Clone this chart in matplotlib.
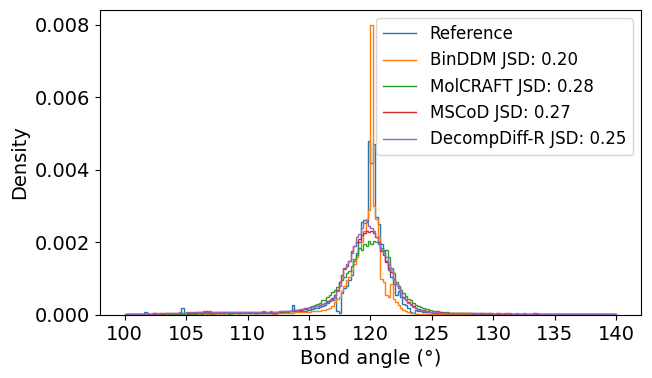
import numpy as np
import matplotlib
matplotlib.use("Agg")
import matplotlib.pyplot as plt

# Bin range of the histograms (degrees) and bin count
x_min, x_max, n_bins = 100, 140, 200
# Bin heights are listed in units of 1e-5 density
unit = 1e-5

reference = [
    1, 2, 2, 2, 2, 2, 2, 2, 7, 2,
    2, 2, 3, 3, 2, 3, 3, 3, 3, 4,
    4, 4, 4, 18, 4, 5, 5, 5, 5, 6,
    6, 6, 5, 6, 6, 5, 6, 5, 6, 6,
    5, 6, 5, 6, 5, 5, 6, 5, 6, 5,
    5, 5, 6, 5, 6, 6, 5, 6, 6, 7,
    6, 7, 7, 8, 8, 9, 10, 10, 27, 10,
    10, 11, 12, 12, 14, 15, 16, 18, 20, 22,
    24, 28, 32, 38, 42, 50, 12, 6, 60, 75,
    80, 95, 110, 150, 170, 200, 255, 262, 260, 480,
    420, 470, 270, 250, 195, 180, 150, 125, 105, 85,
    55, 65, 50, 30, 28, 20, 8, 5, 15, 12,
    10, 9, 8, 8, 7, 6, 6, 6, 5, 5,
    5, 5, 4, 5, 4, 4, 5, 4, 4, 4,
    4, 4, 3, 4, 4, 3, 4, 3, 4, 3,
    3, 4, 3, 3, 4, 3, 3, 4, 3, 3,
    3, 3, 3, 4, 3, 3, 3, 3, 3, 3,
    3, 3, 2, 3, 3, 3, 2, 3, 3, 2,
    3, 2, 3, 2, 3, 2, 2, 3, 2, 2,
    2, 2, 2, 3, 2, 2, 2, 2, 2, 2,
]

binddm = [
    2, 2, 2, 3, 2, 2, 3, 2, 2, 3,
    3, 2, 3, 3, 3, 2, 3, 3, 3, 3,
    3, 3, 4, 3, 3, 4, 4, 3, 4, 4,
    4, 4, 5, 4, 4, 5, 4, 5, 4, 5,
    4, 5, 5, 4, 5, 5, 4, 5, 5, 5,
    5, 5, 5, 4, 5, 5, 5, 6, 5, 5,
    4, 4, 5, 5, 5, 5, 6, 6, 6, 7,
    7, 7, 8, 8, 9, 9, 10, 10, 11, 12,
    13, 14, 16, 20, 25, 35, 45, 50, 65, 80,
    95, 105, 120, 140, 160, 185, 200, 230, 265, 290,
    800, 300, 265, 215, 100, 90, 55, 50, 85, 45,
    35, 28, 20, 15, 10, 8, 6, 5, 4, 4,
    4, 4, 3, 4, 3, 3, 4, 3, 3, 3,
    3, 3, 3, 2, 3, 3, 2, 3, 3, 3,
    3, 2, 3, 3, 2, 3, 3, 2, 3, 2,
    2, 3, 2, 3, 3, 2, 2, 3, 2, 3,
    2, 2, 3, 2, 2, 3, 2, 2, 3, 2,
    2, 3, 2, 2, 2, 2, 3, 2, 2, 2,
    2, 2, 2, 3, 2, 2, 2, 2, 2, 2,
    2, 2, 2, 2, 2, 2, 2, 2, 2, 2,
]

molcraft = [
    2, 3, 2, 3, 3, 2, 3, 3, 2, 3,
    3, 3, 3, 4, 3, 3, 4, 3, 3, 4,
    4, 3, 4, 4, 4, 4, 5, 4, 4, 5,
    5, 4, 5, 5, 5, 4, 5, 5, 5, 5,
    5, 5, 4, 5, 5, 5, 5, 5, 6, 5,
    5, 6, 5, 6, 6, 5, 6, 6, 6, 6,
    6, 6, 7, 7, 8, 8, 9, 10, 11, 12,
    13, 14, 16, 18, 20, 22, 24, 27, 30, 33,
    40, 42, 50, 55, 62, 70, 78, 90, 97, 105,
    115, 120, 135, 155, 165, 185, 180, 195, 190, 205,
    195, 205, 200, 195, 185, 175, 180, 160, 130, 115,
    90, 80, 70, 60, 52, 45, 40, 32, 28, 24,
    22, 20, 17, 16, 14, 12, 11, 10, 9, 8,
    7, 7, 6, 6, 6, 5, 5, 6, 5, 5,
    5, 4, 5, 4, 4, 5, 4, 4, 4, 4,
    4, 4, 3, 4, 4, 3, 4, 3, 3, 4,
    3, 3, 4, 3, 3, 3, 3, 3, 3, 3,
    3, 3, 3, 2, 3, 3, 3, 2, 3, 3,
    2, 3, 3, 2, 2, 3, 2, 2, 3, 2,
    2, 2, 2, 2, 3, 2, 2, 2, 2, 2,
]

mscod = [
    3, 4, 3, 4, 4, 3, 4, 4, 3, 4,
    4, 4, 5, 4, 5, 4, 5, 5, 5, 5,
    5, 6, 5, 6, 6, 6, 6, 7, 6, 7,
    8, 7, 9, 10, 8, 7, 9, 8, 7, 8,
    7, 8, 7, 8, 8, 7, 8, 8, 7, 8,
    8, 7, 8, 8, 7, 8, 8, 9, 8, 8,
    8, 8, 9, 9, 10, 10, 11, 12, 12, 14,
    14, 15, 16, 17, 18, 20, 22, 24, 26, 28,
    30, 33, 38, 42, 48, 55, 70, 90, 110, 130,
    135, 150, 175, 190, 200, 210, 220, 225, 230, 228,
    232, 225, 215, 200, 175, 165, 145, 130, 118, 100,
    85, 75, 60, 50, 42, 35, 30, 25, 20, 17,
    15, 13, 12, 10, 9, 8, 8, 7, 7, 6,
    6, 6, 5, 6, 5, 5, 6, 5, 5, 5,
    5, 5, 4, 5, 5, 4, 5, 4, 5, 4,
    4, 5, 4, 4, 4, 5, 4, 4, 4, 4,
    4, 4, 4, 3, 4, 4, 5, 4, 3, 4,
    4, 3, 4, 4, 3, 4, 3, 4, 4, 3,
    3, 4, 3, 3, 4, 3, 3, 3, 4, 3,
    3, 3, 3, 4, 3, 3, 3, 3, 3, 3,
]

decompdiff_r = [
    3, 3, 4, 3, 4, 4, 3, 4, 4, 5,
    4, 5, 5, 4, 5, 5, 5, 6, 5, 6,
    6, 6, 7, 6, 6, 7, 7, 6, 7, 8,
    7, 8, 10, 9, 11, 8, 9, 8, 8, 9,
    8, 9, 8, 8, 9, 8, 8, 9, 8, 9,
    8, 9, 9, 8, 9, 9, 10, 9, 9, 10,
    8, 9, 9, 10, 10, 11, 12, 12, 13, 14,
    15, 16, 17, 18, 19, 20, 22, 24, 26, 28,
    30, 32, 36, 42, 45, 52, 65, 80, 100, 128,
    140, 150, 170, 190, 215, 222, 240, 252, 255, 245,
    240, 230, 215, 195, 180, 170, 160, 140, 125, 100,
    85, 75, 60, 48, 40, 32, 28, 22, 18, 15,
    13, 12, 10, 9, 8, 8, 7, 7, 6, 6,
    6, 5, 6, 5, 5, 6, 5, 5, 5, 6,
    5, 5, 5, 4, 5, 6, 4, 5, 5, 5,
    4, 5, 5, 4, 5, 4, 5, 4, 4, 5,
    4, 4, 5, 4, 4, 4, 4, 5, 4, 4,
    4, 4, 4, 3, 4, 4, 4, 4, 3, 4,
    3, 4, 3, 4, 3, 3, 4, 3, 3, 4,
    3, 3, 4, 3, 3, 3, 3, 3, 4, 3,
]

labels = [
    "Reference",
    "BinDDM JSD: 0.20",
    "MolCRAFT JSD: 0.28",
    "MSCoD JSD: 0.27",
    "DecompDiff-R JSD: 0.25",
]
series = [reference, binddm, molcraft, mscod, decompdiff_r]
colors = ["#1f77b4", "#ff7f0e", "#2ca02c", "#d62728", "#9467bd"]

fig, ax = plt.subplots(figsize=(6.52, 3.78), dpi=100)
fig.subplots_adjust(left=0.1534, right=0.983, top=0.9735, bottom=0.1667)

edges = np.linspace(x_min, x_max, n_bins + 1)
for lab, vals, col in zip(labels, series, colors):
    ax.stairs(np.asarray(vals) * unit, edges, label=lab, color=col, linewidth=1.0)

ax.set_xlabel("Bond angle (°)", fontsize=14)
ax.set_ylabel("Density", fontsize=14)
ax.set_yticks([0, 0.002, 0.004, 0.006, 0.008])
ax.set_yticklabels(["0.000", "0.002", "0.004", "0.006", "0.008"])
ax.tick_params(labelsize=14)
ax.legend(loc="upper right", fontsize=12)

fig.savefig("out.png", dpi=100)
